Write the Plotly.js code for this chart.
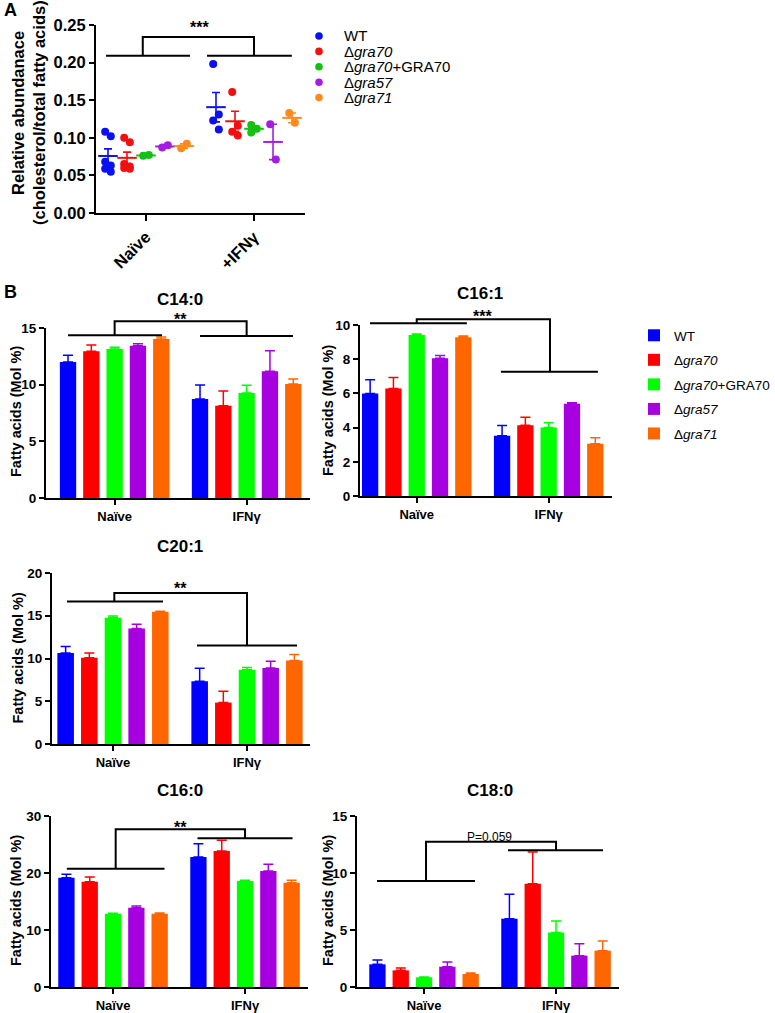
<!DOCTYPE html>
<html>
<head>
<meta charset="utf-8">
<script src="https://cdn.plot.ly/plotly-3.0.1.min.js"></script>
<style>
  html, body { margin: 0; padding: 0; background: #fff; }
  #chart { width: 775px; height: 1013px; }
</style>
</head>
<body>
<div id="chart"></div>
<script>
// ---------------- DATA ----------------
const strains = ['WT', 'Δ<i>gra70</i>', 'Δ<i>gra70</i>+GRA70', 'Δ<i>gra57</i>', 'Δ<i>gra71</i>'];
const categoriesA = ['Naïve', '+IFNγ'];
const categoriesB = ['Naïve', 'IFNγ'];

// Panel A: cholesterol / total fatty acids (individual replicates)
const a_wt_naive    = [0.108, 0.102, 0.068, 0.063, 0.059, 0.055];
const a_wt_ifn      = [0.198, 0.131, 0.123, 0.111];
const a_gra70_naive = [0.100, 0.094, 0.065, 0.062, 0.060, 0.059];
const a_gra70_ifn   = [0.161, 0.116, 0.108, 0.103];
const a_comp_naive  = [0.076, 0.077];
const a_comp_ifn    = [0.117, 0.112, 0.107];
const a_gra57_naive = [0.087, 0.090];
const a_gra57_ifn   = [0.118, 0.071];
const a_gra71_naive = [0.086, 0.092];
const a_gra71_ifn   = [0.133, 0.120];

// Panel B: fatty acids (Mol %), mean and SEM, order = strains
const c14_0_naive     = [12.00, 12.94, 13.15, 13.44, 14.03];
const c14_0_naive_sem = [0.60, 0.55, 0.15, 0.16, 0.17];
const c14_0_ifn       = [8.74, 8.15, 9.26, 11.18, 10.06];
const c14_0_ifn_sem   = [1.23, 1.29, 0.68, 1.82, 0.44];

const c16_1_naive     = [6.00, 6.29, 9.41, 8.05, 9.28];
const c16_1_naive_sem = [0.80, 0.64, 0.06, 0.17, 0.08];
const c16_1_ifn       = [3.52, 4.14, 4.00, 5.39, 3.05];
const c16_1_ifn_sem   = [0.60, 0.47, 0.28, 0.06, 0.35];

const c20_1_naive     = [10.63, 10.08, 14.77, 13.52, 15.47];
const c20_1_naive_sem = [0.77, 0.55, 0.19, 0.50, 0.05];
const c20_1_ifn       = [7.34, 4.84, 8.67, 8.90, 9.77];
const c20_1_ifn_sem   = [1.53, 1.33, 0.28, 0.79, 0.70];

const c16_0_naive     = [19.18, 18.48, 12.87, 13.92, 12.87];
const c16_0_naive_sem = [0.59, 0.82, 0.05, 0.28, 0.11];
const c16_0_ifn       = [22.80, 23.86, 18.60, 20.35, 18.30];
const c16_0_ifn_sem   = [2.35, 1.87, 0.11, 1.17, 0.41];

const c18_0_naive     = [1.99, 1.46, 0.85, 1.78, 1.14];
const c18_0_naive_sem = [0.38, 0.21, 0.03, 0.41, 0.09];
const c18_0_ifn       = [5.99, 9.06, 4.77, 2.75, 3.19];
const c18_0_ifn_sem   = [2.14, 2.78, 1.02, 1.05, 0.85];

// ---------------- STYLE / LAYOUT ----------------
const W = 775, H = 1013;
const FONT = 'Liberation Sans, Arial, Helvetica, sans-serif';
const barColors = ['#0000FF', '#FF0000', '#00FF00', '#A600E0', '#FF6600'];
const dotColors = ['#0A10F0', '#F01010', '#14C014', '#A21FE0', '#FF8A1C'];

// panel geometry in pixels
const P = {
  A:   {ax: '',  l: 96,  r: 305, t: 25,  b: 213, xr: [-0.463, 1.472], yr: [0, 0.25], dtick: 0.05},
  c14: {ax: '2', l: 46,  r: 310, t: 328, b: 498, xr: [-0.52, 1.48],   yr: [0, 15],   dtick: 5},
  c161:{ax: '3', l: 360, r: 612, t: 325, b: 496, xr: [-0.43, 1.48],   yr: [0, 10],   dtick: 2},
  c201:{ax: '4', l: 52,  r: 310, t: 573, b: 744, xr: [-0.455, 1.47],  yr: [0, 20],   dtick: 5},
  c160:{ax: '5', l: 51,  r: 308, t: 816, b: 987, xr: [-0.47, 1.477],  yr: [0, 30],   dtick: 10},
  c180:{ax: '6', l: 357, r: 619, t: 816, b: 987, xr: [-0.508, 1.477], yr: [0, 15],   dtick: 5}
};

function d2p(p, xv, yv) {
  const px = p.l + (xv - p.xr[0]) / (p.xr[1] - p.xr[0]) * (p.r - p.l);
  const py = p.b - (yv - p.yr[0]) / (p.yr[1] - p.yr[0]) * (p.b - p.t);
  return [px / W, 1 - py / H];
}
function pxp(x, y) { return [x / W, 1 - y / H]; }

const mean = a => a.reduce((s, v) => s + v, 0) / a.length;
const sem = a => { const m = mean(a); const sd = Math.sqrt(a.reduce((s, v) => s + (v - m) * (v - m), 0) / (a.length - 1)); return sd / Math.sqrt(a.length); };

const traces = [];

// ---- Panel A traces ----
const aNaive = [a_wt_naive, a_gra70_naive, a_comp_naive, a_gra57_naive, a_gra71_naive];
const aIfn   = [a_wt_ifn, a_gra70_ifn, a_comp_ifn, a_gra57_ifn, a_gra71_ifn];
const offA = [-0.352, -0.176, 0, 0.176, 0.352];
const jit = i => (i % 2 ? 0.026 : -0.026);
for (let k = 0; k < 5; k++) {
  const xs = [], ys = [];
  aNaive[k].forEach((v, i) => { xs.push(0 + offA[k] + jit(i)); ys.push(v); });
  aIfn[k].forEach((v, i) => { xs.push(1 + offA[k] + jit(i)); ys.push(v); });
  traces.push({
    type: 'scatter', mode: 'markers', x: xs, y: ys, xaxis: 'x', yaxis: 'y',
    marker: {color: dotColors[k], size: 8}, showlegend: false, name: strains[k], cliponaxis: false
  });
  traces.push({
    type: 'scatter', mode: 'markers', x: [0 + offA[k], 1 + offA[k]],
    y: [mean(aNaive[k]), mean(aIfn[k])], xaxis: 'x', yaxis: 'y',
    marker: {symbol: 'line-ew', size: 14, color: dotColors[k], line: {color: dotColors[k], width: 2}},
    error_y: {type: 'data', array: [sem(aNaive[k]), sem(aIfn[k])], color: dotColors[k], thickness: 1.6, width: 4},
    showlegend: false, name: strains[k], cliponaxis: false
  });
}

// ---- Panel B bar traces ----
function addBars(p, naive, naiveSem, ifn, ifnSem, showLegend) {
  for (let k = 0; k < 5; k++) {
    traces.push({
      type: 'bar', x: [0, 1], y: [naive[k], ifn[k]],
      xaxis: 'x' + p.ax, yaxis: 'y' + p.ax,
      marker: {color: barColors[k], line: {width: 0}},
      error_y: {type: 'data', symmetric: false, array: [naiveSem[k], ifnSem[k]], arrayminus: [0, 0],
                color: barColors[k], thickness: 1.5, width: 5},
      name: strains[k], legendgroup: 'g' + k, showlegend: showLegend
    });
  }
}
addBars(P.c14, c14_0_naive, c14_0_naive_sem, c14_0_ifn, c14_0_ifn_sem, true);
addBars(P.c161, c16_1_naive, c16_1_naive_sem, c16_1_ifn, c16_1_ifn_sem, false);
addBars(P.c201, c20_1_naive, c20_1_naive_sem, c20_1_ifn, c20_1_ifn_sem, false);
addBars(P.c160, c16_0_naive, c16_0_naive_sem, c16_0_ifn, c16_0_ifn_sem, false);
addBars(P.c180, c18_0_naive, c18_0_naive_sem, c18_0_ifn, c18_0_ifn_sem, false);

// ---- Axes ----
const layout = {
  width: W, height: H, margin: {l: 0, r: 0, t: 0, b: 0},
  paper_bgcolor: '#fff', plot_bgcolor: 'rgba(0,0,0,0)',
  font: {family: FONT, color: '#000'},
  barmode: 'group', bargap: 0.117, bargroupgap: 0.30,
  showlegend: true,
  legend: {x: 1, y: 1 - 320 / H, xanchor: 'right', yanchor: 'top',
           font: {family: FONT, size: 13.5, color: '#000'}, tracegroupgap: 4,
           bgcolor: 'rgba(0,0,0,0)', borderwidth: 0},
  shapes: [], annotations: []
};

Object.values(P).forEach(p => {
  const xk = 'xaxis' + p.ax, yk = 'yaxis' + p.ax;
  const isA = p.ax === '';
  layout[xk] = {
    domain: [p.l / W, p.r / W], anchor: 'y' + p.ax, range: p.xr,
    tickvals: [0, 1], ticktext: isA ? categoriesA : categoriesB, tickangle: isA ? -45 : 0,
    showline: true, linewidth: 2, linecolor: '#000', ticks: 'outside', ticklen: isA ? 6 : 5, tickwidth: 2,
    tickcolor: '#000', showgrid: false, zeroline: false, fixedrange: true,
    tickfont: {family: FONT, size: isA ? 16.5 : 13, color: '#000', weight: 'bold'}
  };
  layout[yk] = {
    domain: [1 - p.b / H, 1 - p.t / H], anchor: 'x' + p.ax, range: p.yr, dtick: p.dtick, tick0: 0,
    tickformat: isA ? '.2f' : '', showline: true, linewidth: 2, linecolor: '#000', ticks: 'outside',
    ticklen: 5, tickwidth: 2, tickcolor: '#000', showgrid: false, zeroline: false, fixedrange: true,
    tickfont: {family: FONT, size: isA ? 16.5 : 13.5, color: '#000', weight: 'bold'}
  };
});

// ---- Brackets ----
const lineStyle = {color: '#000', width: 2};
function bracket(p, yl, yrr, yt, xl, xrr, v) {
  const a = d2p(p, xl[0], yl), b = d2p(p, xl[1], yl);
  const c = d2p(p, xrr[0], yrr), d = d2p(p, xrr[1], yrr);
  layout.shapes.push({type: 'line', xref: 'paper', yref: 'paper', x0: a[0], y0: a[1], x1: b[0], y1: b[1], line: lineStyle});
  layout.shapes.push({type: 'line', xref: 'paper', yref: 'paper', x0: c[0], y0: c[1], x1: d[0], y1: d[1], line: lineStyle});
  const p1 = d2p(p, v[0], yl), p2 = d2p(p, v[0], yt), p3 = d2p(p, v[1], yt), p4 = d2p(p, v[1], yrr);
  layout.shapes.push({type: 'path', xref: 'paper', yref: 'paper',
    path: 'M' + p1[0] + ',' + p1[1] + 'L' + p2[0] + ',' + p2[1] + 'L' + p3[0] + ',' + p3[1] + 'L' + p4[0] + ',' + p4[1],
    line: lineStyle});
}
bracket(P.A, 0.209, 0.209, 0.234, [-0.37, 0.407], [0.565, 1.35], [-0.03, 1.0]);
bracket(P.c14, 14.35, 14.3, 15.6, [-0.353, 0.359], [0.647, 1.351], [0, 1]);
bracket(P.c161, 10.1, 7.27, 10.33, [-0.354, 0.38], [0.638, 1.373], [0, 1.01]);
bracket(P.c201, 16.68, 11.52, 17.66, [-0.343, 0.373], [0.627, 1.373], [0.01, 1]);
bracket(P.c160, 20.76, 26.08, 27.66, [-0.35, 0.39], [0.64, 1.36], [0.02, 1.0]);
bracket(P.c180, 9.3, 11.99, 12.75, [-0.356, 0.386], [0.636, 1.356], [0.015, 1]);

// ---- Text annotations ----
function ann(x, y, text, size, opts) {
  const q = pxp(x, y);
  layout.annotations.push(Object.assign({
    xref: 'paper', yref: 'paper', x: q[0], y: q[1], text: text, showarrow: false,
    xanchor: 'center', yanchor: 'middle',
    font: {family: FONT, size: size, color: '#000', weight: 'bold'}
  }, opts || {}));
}
ann(10, 10, 'A', 18);
ann(10, 292, 'B', 18);
// panel titles
ann(180, 299, 'C14:0', 17);
ann(480, 293, 'C16:1', 17);
ann(180, 546, 'C20:1', 17);
ann(180, 790, 'C16:0', 17);
ann(490, 790, 'C18:0', 17);
// significance
ann(199, 28, '***', 16);
ann(180, 319, '**', 16);
ann(483, 316, '***', 16);
ann(180, 588, '**', 16);
ann(180, 827, '**', 16);
ann(490, 837, 'P=0.059', 12, {font: {family: FONT, size: 12, color: '#000'}});
// y axis titles
ann(18, 113, 'Relative abundanace', 16.5, {textangle: -90});
ann(39, 113, '(cholesterol/total fatty acids)', 16.5, {textangle: -90});
ann(16, 412, 'Fatty acids (Mol %)', 14.5, {textangle: -90});
ann(328, 411, 'Fatty acids (Mol %)', 14.5, {textangle: -90});
ann(17.5, 658, 'Fatty acids (Mol %)', 14.5, {textangle: -90});
ann(16, 901, 'Fatty acids (Mol %)', 14.5, {textangle: -90});
ann(328, 901, 'Fatty acids (Mol %)', 14.5, {textangle: -90});

// ---- Panel A legend (drawn manually for compact spacing) ----
for (let k = 0; k < 5; k++) {
  const cy = 36 + k * 15.4, cx = 319, r = 3.8;
  const q0 = pxp(cx - r, cy + r), q1 = pxp(cx + r, cy - r);
  layout.shapes.push({type: 'circle', xref: 'paper', yref: 'paper', x0: q0[0], y0: q0[1], x1: q1[0], y1: q1[1],
                      fillcolor: dotColors[k], line: {width: 0}});
  ann(342, cy, strains[k], 15, {xanchor: 'left', font: {family: FONT, size: 15, color: '#000'}});
}

Plotly.newPlot('chart', traces, layout, {staticPlot: true, displayModeBar: false});
</script>
</body>
</html>
